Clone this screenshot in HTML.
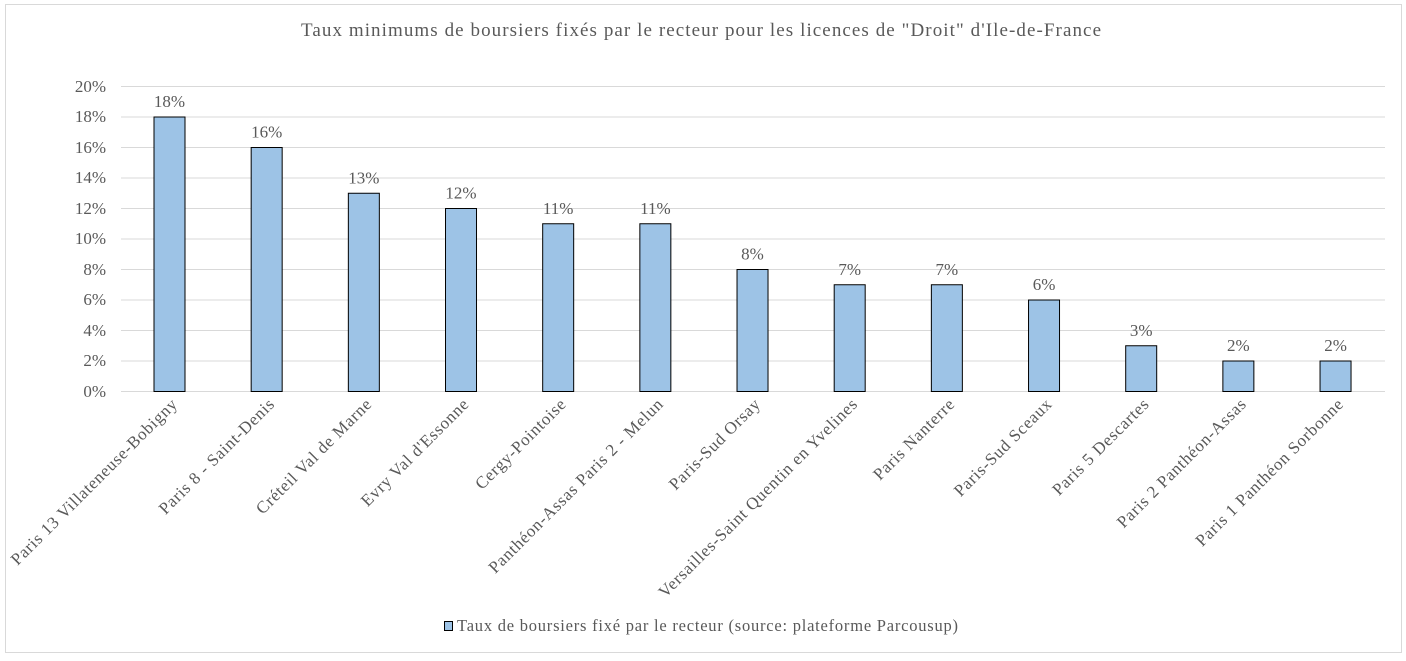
<!DOCTYPE html>
<html><head><meta charset="utf-8"><style>
body{margin:0;background:#fff;}
svg text{font-family:"Liberation Serif",serif;fill:#595959;}
</style></head><body>
<svg width="1406" height="656" xmlns="http://www.w3.org/2000/svg">
<rect x="0" y="0" width="1406" height="656" fill="#fff"/>
<rect x="5.5" y="4.5" width="1396" height="648" fill="#fff" stroke="#d9d9d9"/>
<text x="301" y="36" font-size="19" textLength="800" lengthAdjust="spacing">Taux minimums de boursiers fixés par le recteur pour les licences de "Droit" d'Ile-de-France</text>
<g stroke="#d9d9d9" stroke-width="1">
<line x1="121" x2="1385" y1="86.5" y2="86.5"/>
<line x1="121" x2="1385" y1="117" y2="117"/>
<line x1="121" x2="1385" y1="147.5" y2="147.5"/>
<line x1="121" x2="1385" y1="178" y2="178"/>
<line x1="121" x2="1385" y1="208.5" y2="208.5"/>
<line x1="121" x2="1385" y1="239" y2="239"/>
<line x1="121" x2="1385" y1="269.5" y2="269.5"/>
<line x1="121" x2="1385" y1="300" y2="300"/>
<line x1="121" x2="1385" y1="330.5" y2="330.5"/>
<line x1="121" x2="1385" y1="361" y2="361"/>
<line x1="121" x2="1385" y1="391.5" y2="391.5"/>
</g>
<g font-size="17" text-anchor="end">
<text x="106" y="92">20%</text><text x="106" y="122">18%</text><text x="106" y="153">16%</text>
<text x="106" y="183">14%</text><text x="106" y="214">12%</text><text x="106" y="244">10%</text>
<text x="106" y="275">8%</text><text x="106" y="305">6%</text><text x="106" y="336">4%</text>
<text x="106" y="366">2%</text><text x="106" y="397">0%</text>
</g>
<g id="bars" fill="#9dc3e6" stroke="#000" stroke-width="1"></g>
<g id="vals" font-size="17" text-anchor="middle"></g>
<g id="cats" font-size="17" text-anchor="end" letter-spacing="0.7"></g>
<rect x="444.5" y="621.5" width="8" height="9" fill="#9dc3e6" stroke="#000"/>
<text x="457" y="631" font-size="16.5" textLength="501" lengthAdjust="spacing">Taux de boursiers fixé par le recteur (source: plateforme Parcousup)</text>
<script>
var d=[["Paris 13 Villateneuse-Bobigny",18],["Paris 8 - Saint-Denis",16],["Créteil Val de Marne",13],["Evry Val d'Essonne",12],["Cergy-Pointoise",11],["Panthéon-Assas Paris 2 - Melun",11],["Paris-Sud Orsay",8],["Versailles-Saint Quentin en Yvelines",7],["Paris Nanterre",7],["Paris-Sud Sceaux",6],["Paris 5 Descartes",3],["Paris 2 Panthéon-Assas",2],["Paris 1 Panthéon Sorbonne",2]];
var ns="http://www.w3.org/2000/svg",b=document.getElementById("bars"),v=document.getElementById("vals"),c=document.getElementById("cats");
d.forEach(function(e,i){var cx=169.5+i*97.17,h=e[1]*15.25,y=391.5-h;
var r=document.createElementNS(ns,"rect");r.setAttribute("x",cx-15.5);r.setAttribute("y",y);r.setAttribute("width",31);r.setAttribute("height",h);b.appendChild(r);
var t=document.createElementNS(ns,"text");t.setAttribute("x",cx);t.setAttribute("y",y-10);t.textContent=e[1]+"%";v.appendChild(t);
var l=document.createElementNS(ns,"text");l.setAttribute("transform","translate("+(cx+9)+",405) rotate(-45)");l.textContent=e[0];c.appendChild(l);});
</script>
</svg>
</body></html>
